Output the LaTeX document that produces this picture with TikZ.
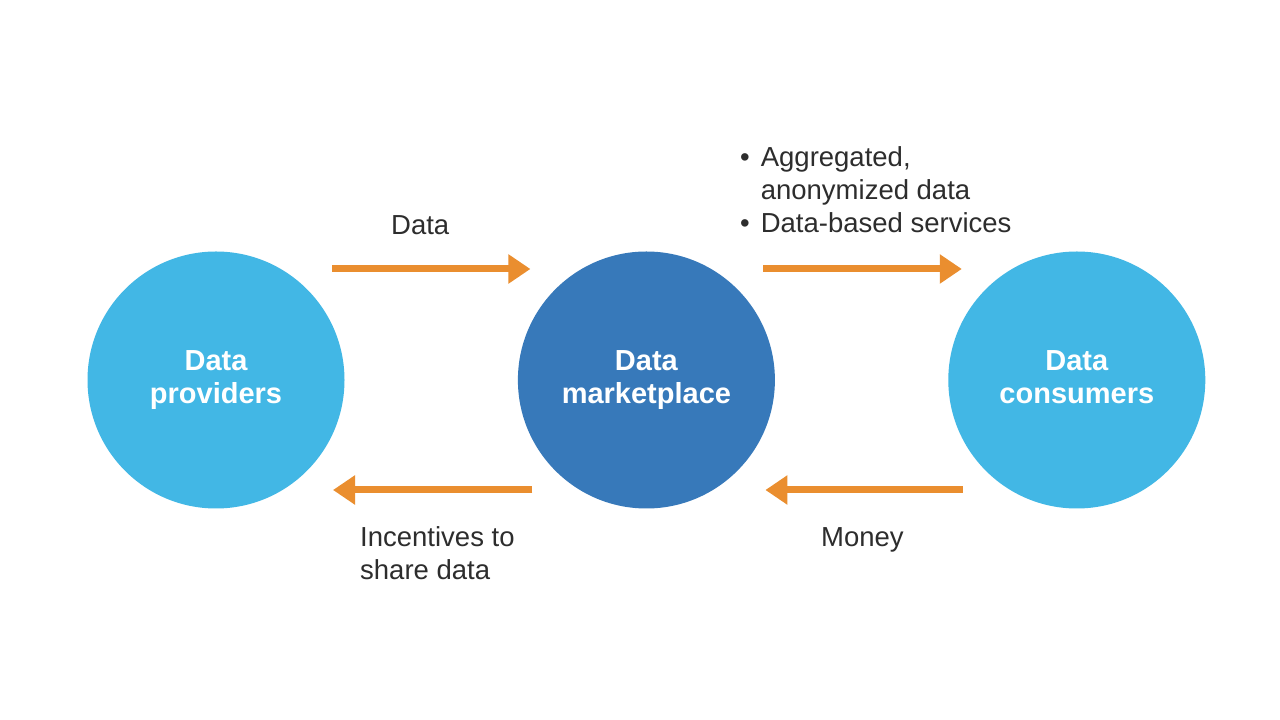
\documentclass[tikz,border=0pt]{standalone}
\usepackage{fontspec}
\setmainfont{Liberation Sans}
\usepackage{xcolor}
\usetikzlibrary{arrows.meta,positioning}

\definecolor{lightblue}{RGB}{66,183,229}
\definecolor{darkblue}{RGB}{55,121,186}
\definecolor{flow}{RGB}{234,142,47}
\definecolor{txt}{RGB}{45,45,45}

\begin{document}
\begin{tikzpicture}[x=1pt,y=1pt,node distance=173pt,
    party/.style={circle,fill=lightblue,minimum size=257pt,inner sep=0pt,
      text=white,align=center,font=\fontsize{29}{33}\selectfont\bfseries},
    flowarrow/.style={draw=flow,line width=7pt,-{Triangle[length=22pt,width=28pt]}},
    lbl/.style={text=txt,inner sep=0pt,align=left,font=\fontsize{27.5}{33}\selectfont}]
  \useasboundingbox[fill=white] (0,0) rectangle (1280,720);

  \node[party] (providers) at (216,340) {Data\\providers};
  \node[party,fill=darkblue] (market) [right=of providers] {Data\\marketplace};
  \node[party] (consumers) [right=of market] {Data\\consumers\vphantom{p}};

  % Upper flows
  \draw[flowarrow] ([shift={(116,111)}]providers.center) -- ([shift={(-116,111)}]market.center);
  \draw[flowarrow] ([shift={(117,111)}]market.center) -- ([shift={(-115,111)}]consumers.center);

  % Lower flows
  \draw[flowarrow] ([shift={(-114,-110)}]market.center) -- ([shift={(117,-110)}]providers.center);
  \draw[flowarrow] ([shift={(-114,-110)}]consumers.center) -- ([shift={(119,-110)}]market.center);

  % Labels
  \node[lbl,anchor=base west] (datalbl) at (391,485) {Data};
  \node[lbl,anchor=base west] (offer) at (740,553) {%
    \begin{tabular}[t]{@{}l@{\hspace{11pt}}l@{}}
      \textbullet & Aggregated,\\
                  & anonymized data\\
      \textbullet & Data-based services
    \end{tabular}};
  \node[lbl,anchor=base west] (incent) at (360,140) {Incentives to\\share data};
  \node[lbl,anchor=base west] (money) at (821,173) {Money};
\end{tikzpicture}
\end{document}
